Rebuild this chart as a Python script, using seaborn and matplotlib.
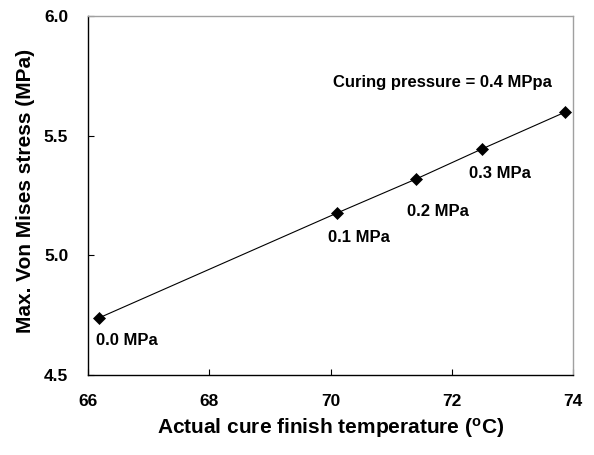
import matplotlib
matplotlib.use("Agg")
import matplotlib.pyplot as plt
import seaborn as sns
import pandas as pd

temperature = [66.19, 70.10, 71.41, 72.49, 73.87]
stress = [4.739, 5.176, 5.319, 5.444, 5.599]
labels = ["0.0 MPa", "0.1 MPa", "0.2 MPa", "0.3 MPa", "Curing pressure = 0.4 MPpa"]
x_ticks = [66, 68, 70, 72, 74]
y_ticks = [4.5, 5.0, 5.5, 6.0]

sns.set_theme(style="white")
plt.rcParams["font.family"] = ["Liberation Sans", "DejaVu Sans"]
plt.rcParams["font.weight"] = "bold"
plt.rcParams["text.color"] = "black"
plt.rcParams["axes.labelcolor"] = "black"
plt.rcParams["xtick.color"] = "black"
plt.rcParams["ytick.color"] = "black"
plt.rcParams["mathtext.fontset"] = "custom"
plt.rcParams["mathtext.bf"] = "Liberation Sans:bold"
plt.rcParams["mathtext.rm"] = "Liberation Sans:bold"
plt.rcParams["mathtext.default"] = "bf"

df = pd.DataFrame({"temperature": temperature, "stress": stress})

fig = plt.figure(figsize=(5.94, 4.55), dpi=100)
ax = fig.add_axes([0.1476, 0.1758, 0.8176, 0.789])

sns.lineplot(data=df, x="temperature", y="stress", ax=ax, color="black",
             linewidth=0.8, marker="D", markersize=6, markeredgecolor="black",
             markerfacecolor="black", markeredgewidth=0.5)

ax.set_xlim(66, 74)
ax.set_ylim(4.5, 6.0)
ax.set_xticks(x_ticks)
ax.set_xticklabels([f"{v:d}" for v in x_ticks])
ax.set_yticks(y_ticks)
ax.set_yticklabels([f"{v:.1f}" for v in y_ticks])

ax.tick_params(axis="both", direction="in", length=4, width=0.8, color="black",
               labelcolor="black", labelsize=12.5,
               bottom=True, left=True, top=False, right=False)
ax.tick_params(axis="x", pad=14)
ax.tick_params(axis="y", pad=14)

for side in ["left", "bottom"]:
    ax.spines[side].set_color("black")
    ax.spines[side].set_linewidth(1.0)
for side in ["top", "right"]:
    ax.spines[side].set_color("#a0a0a0")
    ax.spines[side].set_linewidth(1.0)
    ax.spines[side].set_visible(True)

offsets = [(-3, -23), (-9, -24), (-9, -33), (-13, -24), (-14, 29)]
aligns = ["left", "left", "left", "left", "right"]
for xv, yv, lab, off, ha in zip(temperature, stress, labels, offsets, aligns):
    ax.annotate(lab, (xv, yv), xytext=off, textcoords="offset pixels",
                ha=ha, va="center", fontsize=12, fontweight="bold", color="black")

ax.set_xlabel(r"Actual cure finish temperature ($^{o}$C)", fontsize=15,
              fontweight="bold", color="black")
ax.set_ylabel("Max. Von Mises stress (MPa)", fontsize=15, fontweight="bold",
              color="black")
ax.xaxis.set_label_coords(0.5, -0.114)
ax.yaxis.set_label_coords(-0.108, 0.514)

fig.canvas.draw()
for lab in ax.get_xticklabels() + ax.get_yticklabels():
    lab.set_fontweight("bold")
    lab.set_fontfamily(["Liberation Sans", "DejaVu Sans"])
    lab.set_color("black")

fig.savefig("out.png", dpi=100)
